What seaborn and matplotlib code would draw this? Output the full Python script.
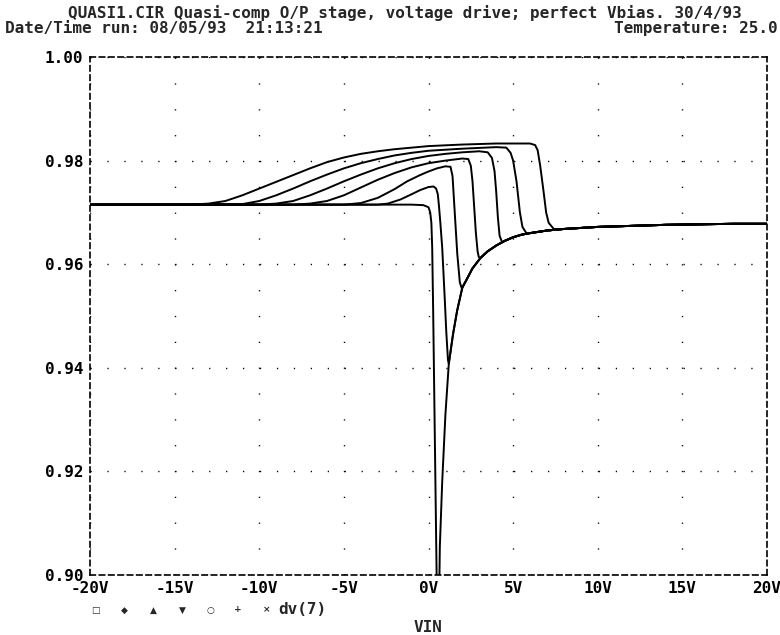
import matplotlib
matplotlib.use("Agg")
import matplotlib.pyplot as plt
import seaborn as sns
import pandas as pd

# ---------------- data ----------------
# common tail (the envelope every trace joins after its drop)
env_x = [0.67, 0.81, 1.0, 1.2, 1.45, 1.69, 2.0, 2.28, 2.6, 3.07, 3.5, 4.0, 4.5,
         5.0, 5.5, 6.0, 7.0, 8.0, 10.0, 12.0, 14.0, 16.0, 18.0, 20.0]
env_y = [0.9055, 0.918, 0.931, 0.9408, 0.9465, 0.951, 0.9555, 0.9572, 0.9592,
         0.9612, 0.9625, 0.9636, 0.9645, 0.9652, 0.9657, 0.9660, 0.9665, 0.9668,
         0.9672, 0.9674, 0.9676, 0.9677, 0.9678, 0.9678]

t1_x = [-20, -1, -0.3, 0, 0.1, 0.17, 0.22, 0.28, 0.34, 0.40, 0.46, 0.52, 0.58, 0.63]
t1_y = [0.9715, 0.9715, 0.9714, 0.9710, 0.9700, 0.9680, 0.9630, 0.9500, 0.9350,
        0.9200, 0.9050, 0.8900, 0.8850, 0.8960]

t2_x = [-20, -3, -2.4, -1.65, -1.0, -0.5, 0.0, 0.3, 0.45, 0.55, 0.62, 0.7, 0.81,
        0.95, 1.05, 1.15]
t2_y = [0.9715, 0.9715, 0.9717, 0.9725, 0.9735, 0.9743, 0.9749, 0.9750, 0.9746,
        0.9735, 0.9712, 0.9680, 0.9632, 0.9540, 0.9470, 0.9415]

t3_x = [-20, -5, -4, -3, -2, -1.26, -0.5, 0, 0.5, 1.0, 1.3, 1.42, 1.55, 1.7, 1.85, 1.97]
t3_y = [0.9715, 0.9715, 0.9718, 0.9728, 0.9745, 0.9760, 0.9772, 0.9779, 0.9785,
        0.9789, 0.9788, 0.9770, 0.9700, 0.9620, 0.9565, 0.9553]

t4_x = [-20, -8, -7, -6, -5, -4, -3, -2, -1, 0, 1, 2, 2.35, 2.5, 2.6, 2.7, 2.8, 2.9, 2.97]
t4_y = [0.9715, 0.9715, 0.9717, 0.9722, 0.9733, 0.9748, 0.9763, 0.9776, 0.9787,
        0.9795, 0.9800, 0.9804, 0.9803, 0.9790, 0.9760, 0.9710, 0.9660, 0.9625, 0.9614]

t5_x = [-20, -10, -9, -8, -7, -6, -5, -4, -3, -2, -1, 0, 1, 2, 3, 3.5, 3.75, 3.9,
        4.0, 4.1, 4.2, 4.35]
t5_y = [0.9715, 0.9715, 0.9717, 0.9722, 0.9733, 0.9746, 0.9760, 0.9773, 0.9785,
        0.9795, 0.9803, 0.9809, 0.9813, 0.9816, 0.9818, 0.9816, 0.9805, 0.9780,
        0.9740, 0.9690, 0.9655, 0.9642]

t6_x = [-20, -11, -10, -9, -8, -7, -6, -5, -4, -3, -2, -1, 0, 2, 4, 4.6, 4.85, 5.0,
        5.2, 5.4, 5.55, 5.8]
t6_y = [0.9715, 0.9716, 0.9722, 0.9733, 0.9746, 0.9760, 0.9773, 0.9785, 0.9795,
        0.9803, 0.9810, 0.9815, 0.9819, 0.9823, 0.9826, 0.9825, 0.9815, 0.9800,
        0.9760, 0.9700, 0.9672, 0.9659]

t7_x = [-20, -14, -13, -12, -11, -10, -9, -8, -7, -6, -5, -4, -3, -2, 0, 2, 4, 6,
        6.3, 6.45, 6.6, 6.8, 6.95, 7.1, 7.4]
t7_y = [0.9715, 0.9715, 0.9717, 0.9722, 0.9733, 0.9746, 0.9759, 0.9772, 0.9785,
        0.9797, 0.9806, 0.9813, 0.9818, 0.9822, 0.9828, 0.9831, 0.9833, 0.9833,
        0.9830, 0.9820, 0.9790, 0.9740, 0.9700, 0.9680, 0.9668]

x_ticks = [-20, -15, -10, -5, 0, 5, 10, 15, 20]
x_tick_labels = ["-20V", "-15V", "-10V", "-5V", "0V", "5V", "10V", "15V", "20V"]
y_ticks = [0.90, 0.92, 0.94, 0.96, 0.98, 1.00]
y_tick_labels = ["0.90", "0.92", "0.94", "0.96", "0.98", "1.00"]
legend_symbols = ["\u25a1", "\u25c6", "\u25b2", "\u25bc", "\u25cb", "+", "\u00d7"]
legend_name = "dv(7)"

title1 = "QUASI1.CIR Quasi-comp O/P stage, voltage drive; perfect Vbias. 30/4/93"
title2 = "Date/Time run: 08/05/93  21:13:21"
title3 = "Temperature: 25.0"
x_label = "VIN"

# ---------------- build long table ----------------
heads = [(t1_x, t1_y), (t2_x, t2_y), (t3_x, t3_y), (t4_x, t4_y),
         (t5_x, t5_y), (t6_x, t6_y), (t7_x, t7_y)]
rows = []
for i, (hx, hy) in enumerate(heads):
    xs = list(hx)
    ys = list(hy)
    last = xs[-1]
    for ex, ey in zip(env_x, env_y):
        if ex > last:
            xs.append(ex)
            ys.append(ey)
    for k, (a, b) in enumerate(zip(xs, ys)):
        rows.append({"trace": f"t{i+1}", "order": k, "VIN": a, "dv": b})
df = pd.DataFrame(rows)

# ---------------- plot ----------------
sns.set_theme(style="white")
plt.rcParams["font.family"] = ["DejaVu Sans Mono", "DejaVu Sans"]
plt.rcParams["font.size"] = 11.5
plt.rcParams["font.weight"] = "bold"

FS = 11.5

fig = plt.figure(figsize=(7.8, 6.35), dpi=100)
ax = fig.add_axes([90 / 780, 1 - 575 / 635, (767 - 90) / 780, (575 - 57) / 635])

sns.lineplot(data=df, x="VIN", y="dv", hue="trace", units="trace", estimator=None,
             sort=False, palette=["black"] * 7, linewidth=1.4, legend=False, ax=ax)

ax.set_xlim(-20, 20)
ax.set_ylim(0.90, 1.00)
ax.set_xticks(x_ticks)
ax.set_xticklabels(x_tick_labels, fontweight="bold")
ax.set_yticks(y_ticks)
ax.set_yticklabels(y_tick_labels, fontweight="bold")
ax.set_xlabel("")
ax.set_ylabel("")

for s in ax.spines.values():
    s.set_visible(True)
    s.set_color("black")
    s.set_linewidth(1.2)
    s.set_linestyle((0, (3.2, 2.4)))

ax.tick_params(axis="x", direction="in", length=4, width=1, colors="black",
               labelsize=FS, pad=4)
ax.tick_params(axis="y", direction="out", length=3, width=1, colors="black",
               labelsize=FS, pad=2)

ax.xaxis.grid(True, color="black", linewidth=1.0, linestyle=(0, (0.9, 17.7)))
ax.yaxis.grid(True, color="black", linewidth=1.0, linestyle=(0, (0.9, 11.3)))
ax.set_axisbelow(True)

# header texts
fig.text(68 / 780, 1 - 13 / 635, title1, ha="left", va="center", fontsize=FS,
         fontweight="bold")
fig.text(5 / 780, 1 - 28 / 635, title2, ha="left", va="center", fontsize=FS,
         fontweight="bold")
fig.text(778 / 780, 1 - 28 / 635, title3, ha="right", va="center", fontsize=FS,
         fontweight="bold")

# legend-like row
sym_x = [95, 124, 153, 182, 210, 238, 267]
for sx, sym in zip(sym_x, legend_symbols):
    fig.text(sx / 780, 1 - 610 / 635, sym, ha="center", va="center", fontsize=6.5,
             family=["DejaVu Sans"], fontweight="bold")
fig.text(278 / 780, 1 - 609 / 635, legend_name, ha="left", va="center", fontsize=FS,
         fontweight="bold")

fig.text(428 / 780, 1 - 628 / 635, x_label, ha="center", va="center", fontsize=FS,
         fontweight="bold")

fig.savefig("out.png", dpi=100)
